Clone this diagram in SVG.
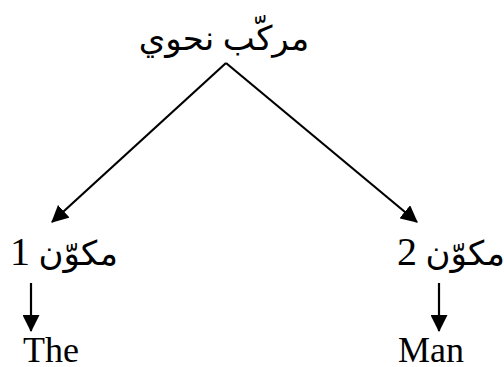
<svg xmlns="http://www.w3.org/2000/svg" width="504" height="367" viewBox="0 0 504 367">
<style>
.t{font-family:"Liberation Serif","DejaVu Sans",serif;fill:#000}
.ar{font-size:34px}
.d{font-size:40px}
.en{font-size:36px}
.c{stroke:#000;stroke-width:2.2;fill:none}
</style>
<defs>
<marker id="ah" viewBox="0 0 16 16" refX="15" refY="8" markerWidth="17" markerHeight="17" markerUnits="userSpaceOnUse" orient="auto">
<path d="M0,0 L16,8 L0,16 Z" fill="#000"/>
</marker>
</defs>
<g id="connectors">
<line class="c" x1="226" y1="63" x2="52" y2="222" marker-end="url(#ah)"/>
<line class="c" x1="226" y1="63" x2="417" y2="222" marker-end="url(#ah)"/>
<line class="c" x1="31" y1="283" x2="31" y2="331" marker-end="url(#ah)"/>
<line class="c" x1="439" y1="283" x2="439" y2="331" marker-end="url(#ah)"/>
</g>
<g id="root"><text class="t ar" x="224" y="50" text-anchor="middle" direction="rtl">مركّب نحوي</text></g>
<g id="c1"><text class="t ar" x="64" y="265" text-anchor="middle" direction="rtl">مكوّن <tspan class="d">1</tspan></text></g>
<g id="c2"><text class="t ar" x="451" y="265" text-anchor="middle" direction="rtl">مكوّن <tspan class="d">2</tspan></text></g>
<g id="w1"><text class="t en" x="23" y="362">The</text></g>
<g id="w2"><text class="t en" x="398" y="362">Man</text></g>
</svg>
